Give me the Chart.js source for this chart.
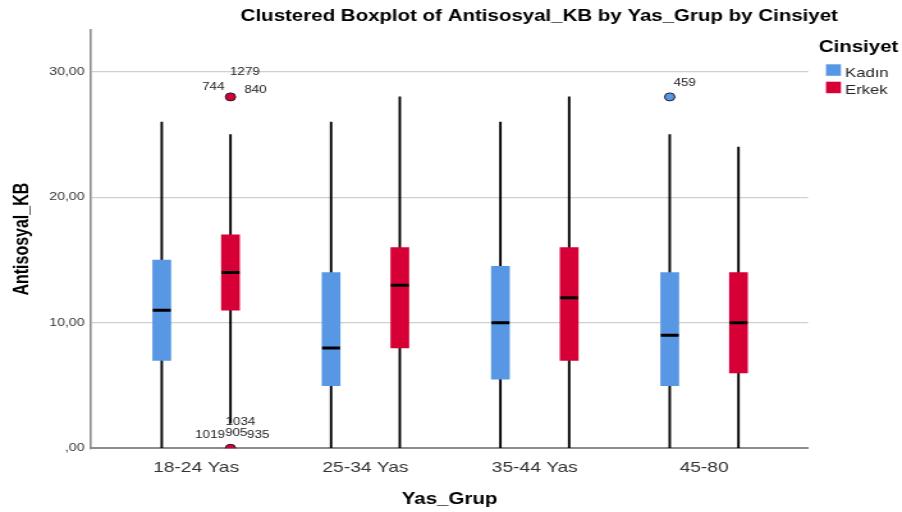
<!DOCTYPE html>
<html>
<head>
<meta charset="utf-8">
<script src="https://cdn.jsdelivr.net/npm/chart.js@4/dist/chart.umd.min.js"></script>
<style>
  html, body { margin: 0; padding: 0; background: #fff; overflow: hidden; }
  /* the chart is drawn at a narrower width and widened horizontally */
  #wrap { width: 705px; height: 512px; transform: scaleX(1.2794); transform-origin: 0 0; }
  canvas { display: block; }
</style>
</head>
<body>
<div id="wrap"><canvas id="c" width="705" height="512"></canvas></div>
<script>
// ---- data ----
const groups = ['18-24 Yas', '25-34 Yas', '35-44 Yas', '45-80'];
const seriesNames = ['Kadın', 'Erkek'];

const kadinMin    = [0, 0, 0, 0];
const kadinQ1     = [7, 5, 5.5, 5];
const kadinMedian = [11, 8, 10, 9];
const kadinQ3     = [15, 14, 14.5, 14];
const kadinMax    = [26, 26, 26, 25];

const erkekMin    = [2, 0, 0, 0];
const erkekQ1     = [11, 8, 7, 6];
const erkekMedian = [14, 13, 12, 10];
const erkekQ3     = [17, 16, 16, 14];
const erkekMax    = [25, 28, 28, 24];

// outliers: group index, series index, value, case numbers
const outlierGroup  = [0, 0, 3];
const outlierSeries = [1, 1, 0];
const outlierValue  = [28, 0, 28];
const outlierCases  = [['744', '1279', '840'], ['1019', '905', '935', '1034'], ['459']];

const yTickValues = [0, 10, 20, 30];
const yTickLabels = [',00', '10,00', '20,00', '30,00'];

// ---- styling ----
const FONT = "'Liberation Sans', Arial, sans-serif";
const seriesColors = ['#5897e4', '#d60036'];
const boxOffset = [-0.203, 0.203];           // shift of each series inside a group
const caseLabelOffsets = [                     // px offsets of case-number labels
  [[-13.4, -9.3], [11.3, -24.3], [19.5, -6.8]],
  [[-16, -13.5], [4.5, -15.3], [21.7, -13.5], [7.8, -26.5]],
  [[11.7, -13.3]]
];

const mins = [kadinMin, erkekMin], maxs = [kadinMax, erkekMax];
const q1s = [kadinQ1, erkekQ1], q3s = [kadinQ3, erkekQ3], meds = [kadinMedian, erkekMedian];

const rangeData = (lo, hi, s) => groups.map((g, i) => ({ x: i + boxOffset[s], y: [lo[i], hi[i]] }));

const medianData = [];
[0, 1].forEach(s => groups.forEach((g, i) => medianData.push({ x: i + boxOffset[s], y: meds[s][i] })));

const outlierData = outlierValue.map((v, k) => ({ x: outlierGroup[k] + boxOffset[outlierSeries[k]], y: v }));
const outlierFill = outlierSeries.map(s => seriesColors[s]);

const datasets = [];
[0, 1].forEach(s => datasets.push({
  type: 'bar', label: seriesNames[s] + ' whisker', data: rangeData(mins[s], maxs[s], s),
  backgroundColor: '#000', borderWidth: 0, barThickness: 1.25, grouped: false, order: 3
}));
[0, 1].forEach(s => datasets.push({
  type: 'bar', label: seriesNames[s], data: rangeData(q1s[s], q3s[s], s),
  backgroundColor: seriesColors[s], borderWidth: 0, barThickness: 14, grouped: false, order: 2
}));
datasets.push({
  type: 'line', label: 'median', data: medianData, showLine: false,
  pointStyle: 'line', pointRadius: 7, pointBorderWidth: 3, pointBorderColor: '#000', order: 1
});
datasets.push({
  type: 'line', label: 'outliers', data: outlierData, showLine: false, clip: 0,
  pointStyle: 'circle', pointRadius: 4, pointBackgroundColor: outlierFill,
  pointBorderColor: '#1e1e2a', pointBorderWidth: 1, order: 0
});

// title, legend and case labels
const decorations = {
  id: 'decorations',
  afterDatasetsDraw(chart) {
    const ctx = chart.ctx;
    const area = chart.chartArea;
    ctx.save();

    // case numbers next to outliers
    const meta = chart.getDatasetMeta(datasets.length - 1);
    ctx.font = `10.5px ${FONT}`;
    ctx.fillStyle = '#222';
    ctx.textAlign = 'center';
    ctx.textBaseline = 'middle';
    meta.data.forEach((pt, k) => {
      outlierCases[k].forEach((txt, j) => {
        const off = caseLabelOffsets[k][j];
        ctx.fillText(txt, pt.x + off[0], pt.y + off[1]);
      });
    });

    // chart title
    ctx.font = `bold 16px ${FONT}`;
    ctx.fillStyle = '#000';
    ctx.fillText('Clustered Boxplot of Antisosyal_KB by Yas_Grup by Cinsiyet', 421.5, 17);

    // legend
    const lx = area.right;
    ctx.textAlign = 'left';
    ctx.textBaseline = 'alphabetic';
    ctx.font = `bold 16px ${FONT}`;
    ctx.fillText('Cinsiyet', lx + 8.3, 52);
    ctx.font = `13px ${FONT}`;
    seriesNames.forEach((name, s) => {
      const top = 64.3 + s * 17.4;
      ctx.fillStyle = seriesColors[s];
      ctx.fillRect(lx + 14, top, 11.7, 11.5);
      ctx.fillStyle = '#222';
      ctx.fillText(name, lx + 28.9, top + 12.2);
    });
    ctx.restore();
  }
};

new Chart(document.getElementById('c'), {
  type: 'bar',
  data: { datasets },
  plugins: [decorations],
  options: {
    responsive: false,
    animation: false,
    devicePixelRatio: 1,
    events: [],
    layout: { padding: { left: 0, top: 30, right: 73.4, bottom: 0 } },
    plugins: { legend: { display: false }, tooltip: { enabled: false }, title: { display: false } },
    scales: {
      x: {
        type: 'linear', min: -0.621, max: 3.614, offset: false,
        grid: { display: false, offset: false },
        border: { display: true, color: '#8c8c8c', width: 2 },
        afterBuildTicks: s => { s.ticks = groups.map((g, i) => ({ value: i })); },
        ticks: {
          autoSkip: false, maxRotation: 0, padding: 3,
          font: { family: FONT, size: 15 }, color: '#333',
          callback: v => groups[v]
        },
        title: {
          display: true, text: 'Yas_Grup', color: '#000',
          font: { family: FONT, size: 16, weight: 'bold' }, padding: { top: 0, bottom: 2.5 }
        },
        afterFit: s => { s.height = 63.7; }
      },
      y: {
        type: 'linear', min: 0, max: 33.33,
        grid: {
          drawTicks: false, lineWidth: 1.2,
          color: c => (c.tick && c.tick.value === 0) ? 'rgba(0,0,0,0)' : '#d0d0d0'
        },
        border: { display: true, color: '#8c8c8c', width: 1.6 },
        afterBuildTicks: s => { s.ticks = yTickValues.map(v => ({ value: v })); },
        ticks: {
          padding: 5, font: { family: FONT, size: 11 }, color: '#333',
          callback: (v, i) => yTickLabels[i]
        },
        title: {
          display: true, text: 'Antisosyal_KB', color: '#000',
          font: { family: FONT, size: 16, weight: 'bold' }, padding: { top: 7.6, bottom: 0 }
        },
        afterFit: s => { s.width = 71.1; }
      }
    }
  }
});
</script>
</body>
</html>
